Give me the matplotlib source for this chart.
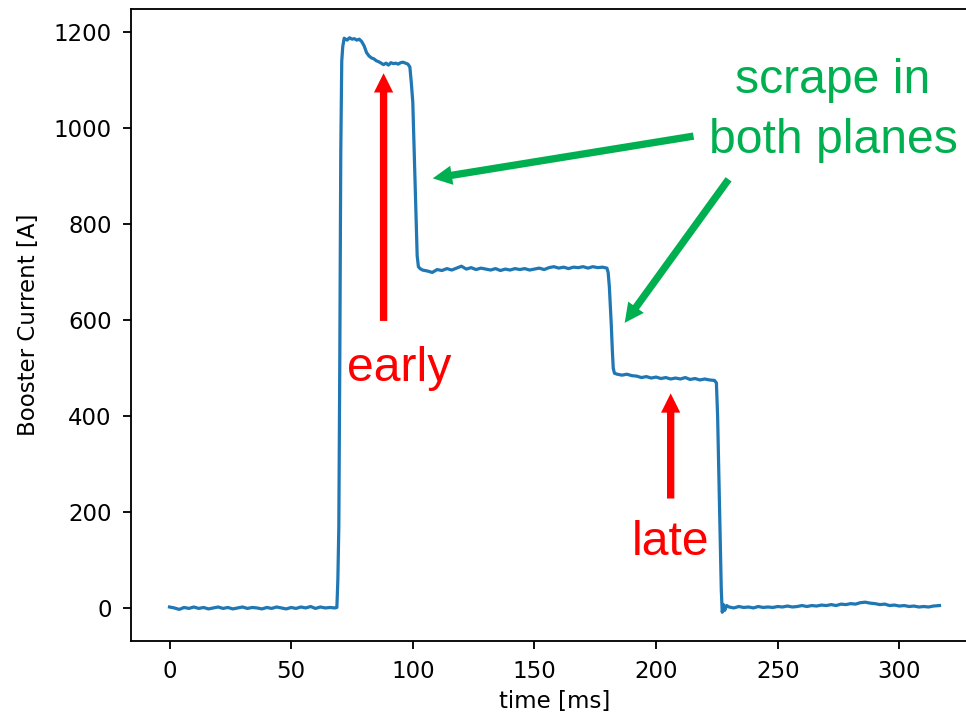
import matplotlib

matplotlib.use("Agg")
import matplotlib.pyplot as plt

# booster current trace, time in ms and current in A
time_ms = [
    0, 2, 4, 6, 8, 10, 12, 14, 16, 18, 20, 22, 24, 26, 28, 30, 32, 34, 36, 38,
    40, 42, 44, 46, 48, 50, 52, 54, 56, 58, 60, 62, 64, 66, 68,
    68.8, 69.2, 69.6, 70.0, 70.4, 70.8, 71.2, 71.8,
    73, 74, 75, 76, 77, 78, 79, 80, 81, 82, 83, 84, 85, 86, 87, 88, 89, 90,
    91, 92, 93, 94, 95, 96, 97, 98, 98.8, 99.4, 100, 100.6, 101.2, 101.8, 102.3, 103,
    104, 106, 108, 110, 112, 114, 116, 118, 120, 122, 124, 126, 128, 130, 132,
    134, 136, 138, 140, 142, 144, 146, 148, 150, 152, 154, 156, 158, 160, 162,
    164, 166, 168, 170, 172, 174, 176, 178, 179.8,
    180.3, 180.8, 181.2, 181.6, 182.0, 182.4, 182.9, 184,
    186, 188, 190, 192, 194, 196, 198, 200, 202, 204, 206, 208, 210, 212, 214,
    216, 218, 220, 222, 224, 224.8,
    225.3, 225.8, 226.3, 226.8, 227.2, 227.7, 228.2, 229, 230,
    232, 234, 236, 238, 240, 242, 244, 246, 248, 250, 252, 254, 256, 258, 260,
    262, 264, 266, 268, 270, 272, 274, 276, 278, 280, 282, 284, 286, 288, 290,
    292, 294, 296, 298, 300, 302, 304, 306, 308, 310, 312, 314, 316.5,
]
current_a = [
    3, 1, -2, 2, 0, 3, 0, 2, -1, 1, 3, 0, 2, -1, 1, 3, 0, 2, 1, -1,
    2, 0, 3, 1, -1, 2, 0, 3, 1, 4, 0, 3, 1, 2, 1,
    2, 60, 170, 520, 950, 1140, 1170, 1188,
    1184, 1189, 1186, 1187, 1184, 1186, 1181, 1172, 1158, 1151, 1147, 1145, 1141, 1139, 1136, 1133, 1136, 1132,
    1137, 1135, 1136, 1134, 1137, 1138, 1136, 1134, 1128, 1095, 1055, 950, 848, 735, 712, 708,
    705, 703, 700, 706, 704, 708, 705, 709, 713, 707, 710, 706, 709, 707, 705,
    708, 704, 707, 705, 708, 706, 708, 705, 707, 709, 706, 710, 712, 709, 711,
    708, 711, 710, 712, 709, 712, 710, 711, 709,
    700, 670, 630, 590, 540, 500, 490, 488,
    486, 488, 485, 484, 481, 483, 480, 482, 479, 481, 478, 480, 478, 481, 477,
    479, 476, 478, 476, 475, 470,
    400, 280, 150, 40, -8, 8, -4, 6, 3,
    1, 4, 2, 3, 1, 4, 2, 3, 2, 4, 3, 5, 3, 4, 6,
    4, 6, 5, 7, 6, 8, 6, 9, 8, 10, 9, 12, 13, 11, 10,
    8, 9, 6, 7, 5, 6, 4, 5, 3, 4, 3, 5, 6,
]

RED = "#ff0000"
GREEN = "#00b050"
note_font = dict(family=["Liberation Sans", "DejaVu Sans"], size=21)

fig = plt.figure(figsize=(966 / 165, 713 / 165), dpi=165)
# the plot runs past the right edge of the figure, so the right spine is off-canvas
ax = fig.add_axes([131 / 966, 72 / 713, (978 - 131) / 966, 632 / 713])
ax.spines["right"].set_visible(False)

ax.plot(time_ms, current_a, color="C0", lw=1.4)
ax.set_xlabel("time [ms]", labelpad=3)
ax.set_ylabel("Booster Current [A]", labelpad=6)
ax.tick_params(pad=5)


def arrow(tip, tail, color):
    ax.annotate(
        "", xy=tip, xytext=tail,
        arrowprops=dict(
            arrowstyle="simple,head_length=0.42,head_width=0.42,tail_width=0.16",
            mutation_scale=20, fc=color, ec="none", lw=0,
            shrinkA=0, shrinkB=0,
        ),
    )


# beam loss markers
arrow((88.0, 1115), (88.0, 599), RED)
arrow((206.0, 448), (206.0, 229), RED)
ax.text(94.6, 473, "early", color=RED, ha="center", va="baseline", **note_font)
ax.text(205.8, 111, "late", color=RED, ha="center", va="baseline", **note_font)

# scraping steps
arrow((108.2, 896), (215.4, 984), GREEN)
arrow((187.1, 595), (229.8, 894), GREEN)
ax.text(272.7, 949, "scrape in\nboth planes", color=GREEN, ha="center",
        va="baseline", linespacing=1.42, **note_font)

fig.savefig("out.png", dpi=165)
